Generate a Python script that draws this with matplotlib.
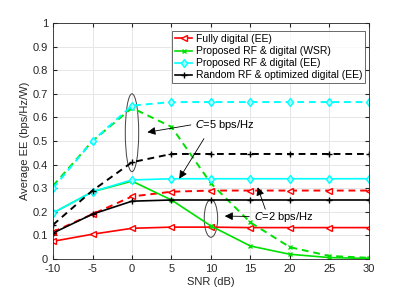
import numpy as np
import matplotlib.pyplot as plt
from matplotlib.patches import Ellipse

plt.rcParams['font.family'] = ['Liberation Sans', 'DejaVu Sans']
plt.rcParams['axes.unicode_minus'] = False

snr = [-10, -5, 0, 5, 10, 15, 20, 25, 30]

# C = 2 bps/Hz (solid)
fd_2 = [0.075, 0.105, 0.13, 0.135, 0.135, 0.133, 0.133, 0.133, 0.133]
wsr_2 = [0.195, 0.285, 0.33, 0.25, 0.14, 0.055, 0.02, 0.006, 0.002]
ee_2 = [0.195, 0.285, 0.335, 0.34, 0.34, 0.34, 0.34, 0.34, 0.34]
rnd_2 = [0.11, 0.19, 0.245, 0.25, 0.25, 0.25, 0.25, 0.25, 0.25]

# C = 5 bps/Hz (dashed)
fd_5 = [0.115, 0.19, 0.265, 0.285, 0.29, 0.29, 0.29, 0.29, 0.29]
wsr_5 = [0.31, 0.50, 0.64, 0.56, 0.32, 0.155, 0.05, 0.013, 0.005]
ee_5 = [0.30, 0.50, 0.65, 0.665, 0.665, 0.665, 0.665, 0.665, 0.665]
rnd_5 = [0.145, 0.29, 0.41, 0.445, 0.445, 0.445, 0.445, 0.445, 0.445]

labels = ['Fully digital (EE)', 'Proposed RF & digital (WSR)',
          'Proposed RF & digital (EE)', 'Random RF & optimized digital (EE)']

fig = plt.figure(figsize=(4.08, 2.91), dpi=100)
ax = fig.add_axes([0.130, 0.110, 0.774, 0.811])

styles = [('red', '<', 'white', 4.5), ('#00e000', 'x', '#00e000', 3.5),
          ('cyan', 'd', '#aaffff', 4.5), ('black', '+', 'black', 4.5)]

for (c, m, fc, ms), y2, y5, lab in zip(styles, [fd_2, wsr_2, ee_2, rnd_2],
                                       [fd_5, wsr_5, ee_5, rnd_5], labels):
    ax.plot(snr, y2, color=c, marker=m, mfc=fc, ms=ms, mew=1.0, lw=1.2, label=lab)
    ax.plot(snr, y5, color=c, marker=m, mfc=fc, ms=ms, mew=1.0, lw=1.4, ls=(0, (3.5, 2.5)))

ax.add_patch(Ellipse((0, 0.535), 1.7, 0.33, fill=False, ec='#404040', lw=0.7))
ax.add_patch(Ellipse((10, 0.172), 1.7, 0.16, fill=False, ec='#404040', lw=0.7))

ap = dict(arrowstyle='-|>', color='black', lw=0.6, mutation_scale=12)
ax.annotate('', xy=(1.6, 0.535), xytext=(7.8, 0.57), arrowprops=ap)
ax.annotate('', xy=(5.8, 0.33), xytext=(9.3, 0.52), arrowprops=ap)
ax.text(8.0, 0.568, '$C$=5 bps/Hz', fontsize=8, va='center')
ax.annotate('', xy=(11.4, 0.182), xytext=(15.2, 0.18), arrowprops=ap)
ax.annotate('', xy=(15.8, 0.315), xytext=(17.0, 0.20), arrowprops=ap)
ax.text(15.4, 0.178, '$C$=2 bps/Hz', fontsize=8, va='center')

ax.set_xlim(-10, 30)
ax.set_ylim(0, 1)
ax.set_xticks(np.arange(-10, 31, 5))
ax.set_yticks(np.arange(0, 1.01, 0.1))
ax.set_yticklabels(['0', '0.1', '0.2', '0.3', '0.4', '0.5', '0.6', '0.7', '0.8', '0.9', '1'])
ax.grid(True, color='#e6e6e6', lw=0.7)
ax.set_axisbelow(True)
ax.tick_params(labelsize=8, direction='in', length=3, colors='#262626',
               top=True, right=True)
for s in ax.spines.values():
    s.set_color('#262626')
    s.set_linewidth(0.6)
ax.set_xlabel('SNR (dB)', fontsize=8, color='#262626', labelpad=2)
ax.set_ylabel('Average EE (bps/Hz/W)', fontsize=8, color='#262626', labelpad=2)

leg = ax.legend(loc='upper right', bbox_to_anchor=(0.995, 0.975), fontsize=7.5,
                frameon=True, fancybox=False, edgecolor='#262626', handlelength=1.7,
                handletextpad=0.3, borderpad=0.3, labelspacing=0.2, borderaxespad=0.2)
leg.get_frame().set_linewidth(0.6)

fig.savefig('out.png', dpi=100)
